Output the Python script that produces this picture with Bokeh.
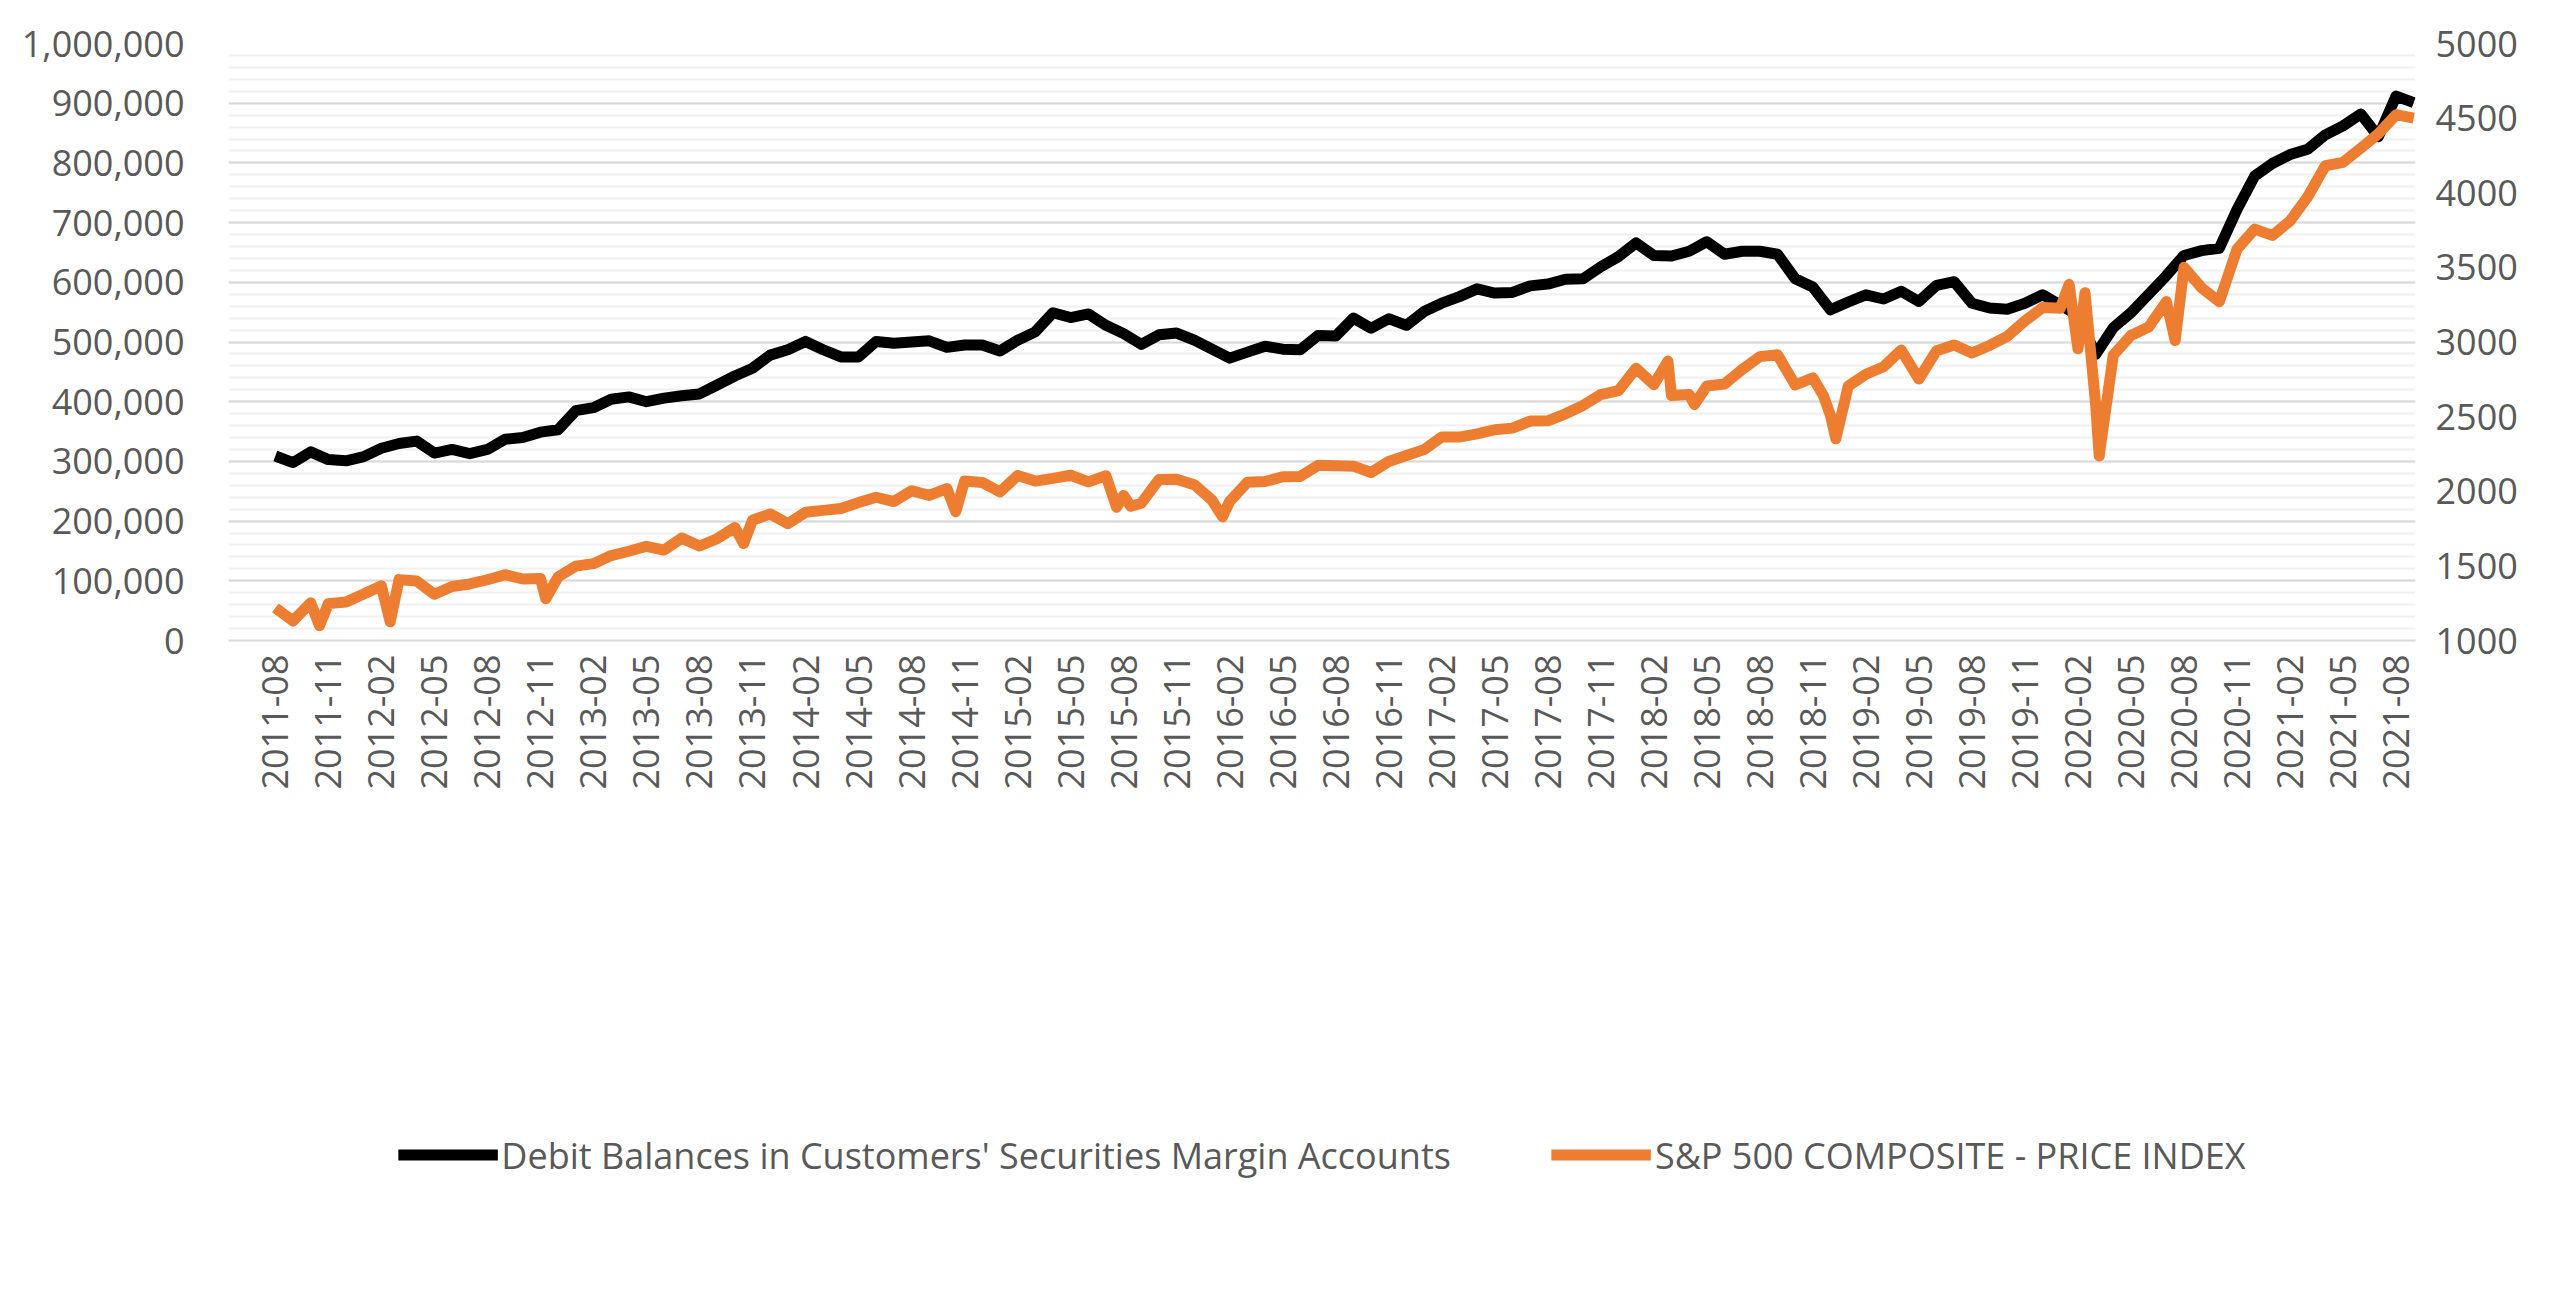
import numpy as np
from bokeh.plotting import figure
from bokeh.models import Range1d, LinearAxis, FixedTicker, NumeralTickFormatter, Legend, LegendItem
from bokeh.embed import file_html
from bokeh.resources import INLINE

# monthly categories 2011-08 .. 2021-09
months = []
y, m = 2011, 8
for _ in range(122):
    months.append(f"{y}-{m:02d}")
    m += 1
    if m > 12:
        m, y = 1, y + 1

margin_debt = [309, 298, 316, 303, 301,
    308, 322, 330, 334, 314, 320, 313, 320, 337, 340, 349, 353,
    385, 390, 404, 408, 400, 406, 410, 413, 428, 443, 456, 478,
    487, 501, 487, 475, 475, 501, 498, 500, 502, 491, 495, 495,
    485, 503, 517, 549, 541, 547, 528, 514, 496, 512, 515, 503,
    488, 473, 483, 493, 488, 487, 511, 510, 540, 523, 539, 528,
    551, 565, 576, 589, 582, 583, 594, 597, 605, 606, 626, 643,
    666, 645, 644, 652, 668, 647, 652, 652, 647, 606, 592, 554,
    567, 579, 572, 585, 568, 595, 601, 565, 557, 555, 565, 579,
    562, 545, 479, 524, 549, 580, 611, 645, 653, 657, 722, 778,
    799, 814, 823, 847, 862, 882, 844, 912, 901]
margin_debt = [v * 1000 for v in margin_debt]

sp500 = [1219, 1131, 1253, 1247, 1258,
    1312, 1366, 1408, 1398, 1310, 1362, 1379, 1407, 1441, 1412, 1416, 1426,
    1498, 1515, 1569, 1598, 1631, 1606, 1686, 1633, 1682, 1757, 1806, 1848,
    1783, 1859, 1872, 1884, 1924, 1960, 1931, 2003, 1972, 2018, 2068, 2059,
    1995, 2105, 2068, 2086, 2107, 2063, 2104, 1972, 1920, 2079, 2080, 2044,
    1940, 1932, 2060, 2065, 2097, 2099, 2174, 2171, 2168, 2126, 2199, 2239,
    2279, 2364, 2363, 2384, 2412, 2423, 2470, 2472, 2519, 2575, 2648, 2674,
    2824, 2714, 2641, 2648, 2705, 2718, 2816, 2902, 2914, 2712, 2760, 2507,
    2704, 2784, 2834, 2946, 2752, 2942, 2980, 2926, 2977, 3038, 3141, 3231,
    3226, 2954, 2585, 2912, 3044, 3100, 3271, 3500, 3363, 3270, 3622, 3756,
    3714, 3811, 3973, 4181, 4204, 4298, 4395, 4523, 4500]

# intra-month extremes (month position, value)
sp_extra_x = [2.5, 6.5, 15.3, 26.5, 38.5, 47.6, 48.4, 53.6, 78.8, 80.3, 87.6, 88.3, 100.4, 101.5, 102.4, 103.2, 107.5]
sp_extra_v = [1099, 1125, 1280, 1650, 1862, 1893, 1900, 1829, 2872, 2581, 2640, 2351, 3230, 3386, 3330, 2237, 3010]

idx = list(range(len(sp500))) + sp_extra_x
vals = sp500 + sp_extra_v
order = np.argsort(idx)
sx = [idx[i] for i in order]
sv = [vals[i] for i in order]

FS = "36px"
GREY = "#595959"

p = figure(width=2557, height=1292, output_backend="svg", toolbar_location=None,
           x_range=Range1d(-2.65, 121.1), y_range=Range1d(0, 1000000),
           min_border_left=228, min_border_right=142, min_border_top=43, min_border_bottom=0)
p.outline_line_color = None
p.extra_y_ranges = {"sp": Range1d(1000, 5000)}

p.xgrid.grid_line_color = None
p.ygrid.grid_line_color = "#d9d9d9"
p.ygrid.grid_line_width = 2
p.ygrid.minor_grid_line_color = "#f0f0f0"
p.ygrid.minor_grid_line_width = 2

black = p.line(list(range(len(margin_debt))), margin_debt, line_color="black", line_width=11, line_join="round")
orange = p.line(sx, sv, y_range_name="sp", line_color="#ED7D31", line_width=11, line_join="round")

ticks = list(range(0, 122, 3))
p.xaxis.ticker = FixedTicker(ticks=ticks)
p.xaxis.major_label_overrides = {t: months[t] for t in ticks}
p.xaxis.major_label_orientation = np.pi / 2
p.xaxis.axis_line_color = "#d9d9d9"
p.xaxis.axis_line_width = 2
p.xaxis.major_tick_line_color = None
p.xaxis.minor_tick_line_color = None
p.xaxis.major_label_standoff = 8

p.yaxis.ticker = FixedTicker(ticks=list(range(0, 1000001, 100000)), minor_ticks=list(range(0, 1000001, 20000)))
p.yaxis.formatter = NumeralTickFormatter(format="0,0")
for ax in [p.xaxis[0], p.yaxis[0]]:
    ax.major_label_text_font = "Open Sans"
    ax.major_label_text_color = GREY
    ax.major_label_text_font_size = FS
p.yaxis.axis_line_color = None
p.yaxis.major_tick_line_color = None
p.yaxis.minor_tick_line_color = None
p.yaxis.major_label_standoff = 38

ra = LinearAxis(y_range_name="sp", ticker=FixedTicker(ticks=list(range(1000, 5001, 500))),
                axis_line_color=None, major_tick_line_color=None, minor_tick_line_color=None,
                major_label_text_font="Open Sans", major_label_text_color=GREY,
                major_label_text_font_size=FS, major_label_standoff=14)
p.add_layout(ra, "right")

legend = Legend(items=[LegendItem(label="Debit Balances in Customers' Securities Margin Accounts", renderers=[black]),
                       LegendItem(label="S&P 500 COMPOSITE - PRICE INDEX", renderers=[orange])],
                orientation="horizontal", location="center", border_line_color=None,
                label_text_font="Open Sans", label_text_color=GREY, label_text_font_size=FS,
                glyph_width=100, label_standoff=4, spacing=100, margin=0, padding=48)
p.add_layout(legend, "below")

open("out.html", "w").write(file_html(p, INLINE))
